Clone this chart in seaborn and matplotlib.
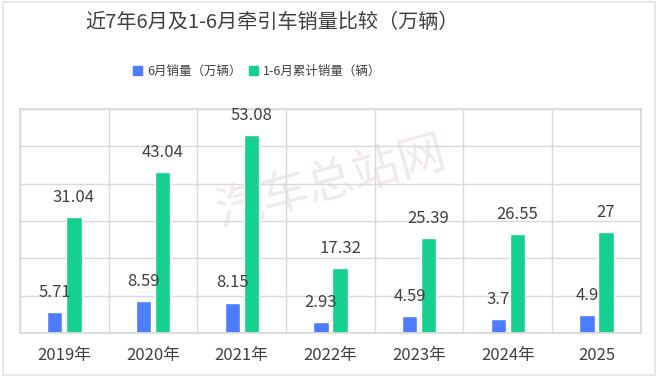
import pandas as pd
import seaborn as sns
import matplotlib.pyplot as plt
from matplotlib.patches import Rectangle

# 数据
years = ['2019年', '2020年', '2021年', '2022年', '2023年', '2024年', '2025']
june_sales = [5.71, 8.59, 8.15, 2.93, 4.59, 3.7, 4.9]
h1_sales = [31.04, 43.04, 53.08, 17.32, 25.39, 26.55, 27]
series_names = ['6月销量（万辆）', '1-6月累计销量（辆）']
colors = ['#4d7cfe', '#16d08f']

df = pd.DataFrame({'年份': years, series_names[0]: june_sales, series_names[1]: h1_sales})
df = df.melt(id_vars='年份', var_name='系列', value_name='销量')

sns.set_theme(style='white')
plt.rcParams['font.family'] = ['Noto Sans CJK SC', 'DejaVu Sans']
text_color = '#404040'

fig = plt.figure(figsize=(6.6, 3.87), dpi=100)
fig.patch.set_facecolor('white')
fig.patches.append(Rectangle((0.004, 0.03), 0.988, 0.965, transform=fig.transFigure,
                             facecolor='none', edgecolor='#e3e3e3', lw=1.2))

ax = fig.add_axes([0.0303, 0.1395, 0.9407, 0.5785])
sns.barplot(data=df, x='年份', y='销量', hue='系列', palette=colors,
            width=0.43, gap=0.2, ax=ax, legend=False, saturation=1)

for cont in ax.containers:
    labels = [f'{v:g}' for v in cont.datavalues]
    ax.bar_label(cont, labels=labels, padding=8, fontsize=12, color=text_color)

ax.set_ylim(0, 60)
ax.set_xlim(-0.5, 6.5)
ax.set_yticks(range(0, 61, 10))
ax.set_yticklabels([])
ax.set_xticks([i - 0.5 for i in range(8)], minor=True)
ax.grid(axis='y', color='#d9d9d9', lw=1)
ax.grid(axis='x', which='minor', color='#d9d9d9', lw=1)
ax.tick_params(axis='both', which='both', length=0)
ax.tick_params(axis='x', labelsize=12, labelcolor=text_color, pad=10)
ax.set_xlabel('')
ax.set_ylabel('')
for s in ax.spines.values():
    s.set_color('#d9d9d9')

# 水印
ax.text(0.5, 0.67, '汽车总站网', transform=ax.transAxes, fontsize=34, color='#f1eaea',
        rotation=15, ha='center', va='center', zorder=0)

# 标题与图例
fig.text(0.412, 0.943, '近7年6月及1-6月牵引车销量比较（万辆）', ha='center', va='center',
         fontsize=14.5, color=text_color)
handles = [Rectangle((0, 0), 1, 1, color=c) for c in colors]
fig.legend(handles, series_names, loc='center', bbox_to_anchor=(0.39, 0.815), ncol=2,
           frameon=False, fontsize=9, handlelength=0.7, handleheight=0.7,
           handletextpad=0.4, columnspacing=0.6, labelcolor=text_color)

fig.savefig('out.png', dpi=100, facecolor=fig.get_facecolor())
